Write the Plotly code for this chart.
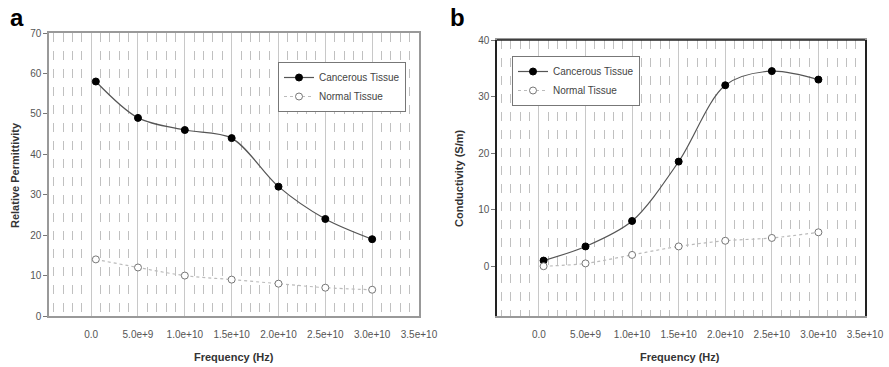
import plotly.graph_objects as go

freq = [0.5e9, 5e9, 1e10, 1.5e10, 2e10, 2.5e10, 3e10]
perm_cancer = [58, 49, 46, 44, 32, 24, 19]
perm_normal = [14, 12, 10, 9, 8, 7, 6.5]
cond_cancer = [1, 3.5, 8, 18.5, 32, 34.5, 33]
cond_normal = [0, 0.5, 2, 3.5, 4.5, 5, 6]
x_tickvals = [0, 5e9, 1e10, 1.5e10, 2e10, 2.5e10, 3e10, 3.5e10]
x_ticktext = ["0.0", "5.0e+9", "1.0e+10", "1.5e+10", "2.0e+10", "2.5e+10", "3.0e+10", "3.5e+10"]

W, H = 889, 367
FONT = "Liberation Sans, Arial, sans-serif"

fig = go.Figure()

def add_pair(xa, ya, yc, yn, legend):
    fig.add_trace(go.Scatter(x=freq, y=yc, mode="lines+markers", name="Cancerous Tissue",
                             line=dict(color="#555555", width=1.2, shape="spline", smoothing=0.9),
                             marker=dict(color="black", size=7, line=dict(color="black", width=1)),
                             xaxis=xa, yaxis=ya, legend=legend))
    fig.add_trace(go.Scatter(x=freq, y=yn, mode="lines+markers", name="Normal Tissue",
                             line=dict(color="#bbbbbb", width=1.2, dash="dot", shape="spline"),
                             marker=dict(color="white", size=7, line=dict(color="#777777", width=1)),
                             xaxis=xa, yaxis=ya, legend=legend))

add_pair("x", "y", perm_cancer, perm_normal, "legend")
add_pair("x2", "y2", cond_cancer, cond_normal, "legend2")

def xax(domain, anchor, linecolor):
    return dict(domain=domain, anchor=anchor, range=[-4.5e9, 3.5e10], automargin=False,
                tickvals=x_tickvals, ticktext=x_ticktext, ticks="", ticklabelstandoff=8,
                tickfont=dict(size=10, color="#555555", family=FONT),
                showgrid=True, gridcolor="#c8c8c8", gridwidth=1,
                minor=dict(dtick=1e9, tick0=0, showgrid=True, gridcolor="#c0c0c0", griddash="dash", gridwidth=1),
                showline=True, linecolor=linecolor, linewidth=1.5, mirror=True, zeroline=False)

def yax(domain, anchor, rng, dtick, linecolor):
    return dict(domain=domain, anchor=anchor, range=rng, dtick=dtick, tick0=0, automargin=False,
                ticks="outside", ticklen=4, tickcolor="#777777",
                tickfont=dict(size=10, color="#555555", family=FONT),
                showgrid=False, zeroline=False,
                showline=True, linecolor=linecolor, linewidth=1.5, mirror=True)

ya_dom = [51 / H, (H - 33) / H]
yb_dom = [51 / H, (H - 40) / H]

fig.update_layout(
    width=W, height=H,
    margin=dict(l=0, r=0, t=0, b=0, autoexpand=False),
    paper_bgcolor="white", plot_bgcolor="white",
    font=dict(family=FONT),
    xaxis=xax([49 / W, 419 / W], "y", "#999999"),
    yaxis=yax(ya_dom, "x", [0, 70], 10, "#999999"),
    xaxis2=xax([497 / W, 865 / W], "y2", "#999999"),
    yaxis2=yax(yb_dom, "x2", [-8.8, 40], 10, "#222222"),
    legend=dict(x=278 / W, y=(H - 62) / H, xanchor="left", yanchor="top",
                bgcolor="white", bordercolor="#777777", borderwidth=1,
                font=dict(size=10, color="#444444", family=FONT), itemwidth=30,
                tracegroupgap=0),
    legend2=dict(x=512 / W, y=(H - 56) / H, xanchor="left", yanchor="top",
                 bgcolor="white", bordercolor="#777777", borderwidth=1,
                 font=dict(size=10, color="#444444", family=FONT), itemwidth=30,
                 tracegroupgap=0),
    showlegend=True,
)

ann = [
    dict(text="<b>a</b>", x=8 / W, y=(H - 18) / H, xanchor="left", yanchor="middle", font=dict(size=24, color="black")),
    dict(text="<b>b</b>", x=448 / W, y=(H - 18) / H, xanchor="left", yanchor="middle", font=dict(size=24, color="black")),
    dict(text="<b>Relative Permittivity</b>", x=15 / W, y=(H - 175) / H, textangle=-90,
         xanchor="center", yanchor="middle", font=dict(size=11, color="#333333")),
    dict(text="<b>Conductivity (S/m)</b>", x=459 / W, y=(H - 178) / H, textangle=-90,
         xanchor="center", yanchor="middle", font=dict(size=11, color="#333333")),
    dict(text="<b>Frequency (Hz)</b>", x=234 / W, y=(H - 357) / H, xanchor="center", yanchor="middle",
         font=dict(size=11, color="#333333")),
    dict(text="<b>Frequency (Hz)</b>", x=680 / W, y=(H - 357) / H, xanchor="center", yanchor="middle",
         font=dict(size=11, color="#333333")),
]
for a in ann:
    a.update(xref="paper", yref="paper", showarrow=False)
fig.update_layout(annotations=ann)

# dark top border of panel b
fig.add_shape(type="line", xref="x2 domain", yref="y2 domain", x0=0, x1=1, y0=1, y1=1,
              line=dict(color="#222222", width=1.5))

fig.write_html("out.html", config={"displayModeBar": False},
               post_script="document.body.style.margin='0';document.body.style.overflow='hidden';")
